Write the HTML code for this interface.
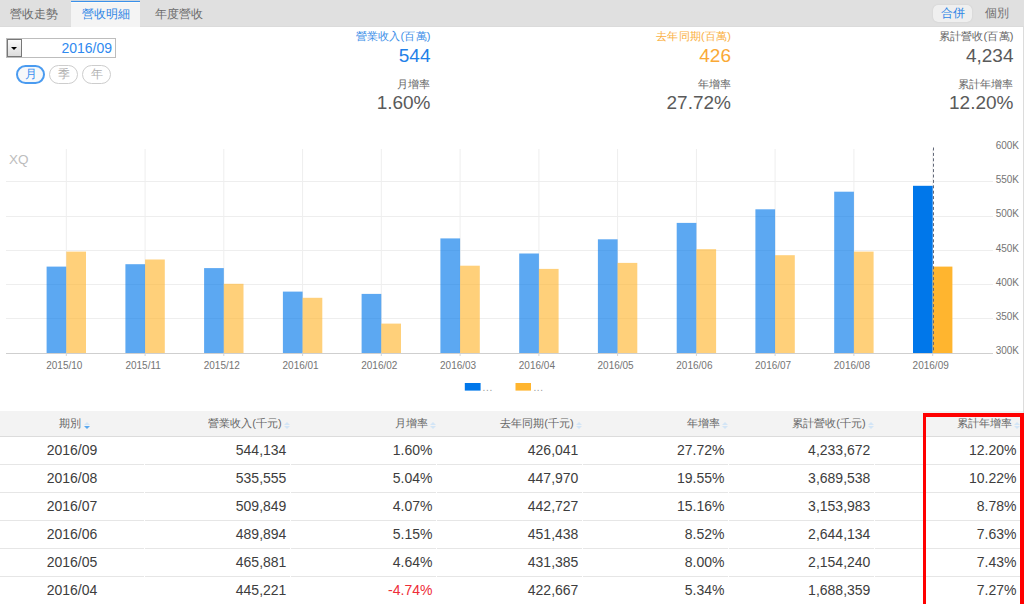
<!DOCTYPE html>
<html><head><meta charset="utf-8">
<style>
html,body{margin:0;padding:0;}
body{width:1024px;height:604px;overflow:hidden;position:relative;background:#fff;font-family:"Liberation Sans",sans-serif;color:#555;}
.abs{position:absolute;white-space:nowrap;}
.tabbar{position:absolute;left:0;top:0;width:1024px;height:26px;background:#e0e0e0;border-bottom:1px solid #dbdbdb;}
.tab{position:absolute;top:0;height:27px;line-height:28px;font-size:12px;color:#6a6a6a;}
.tab.act{background:#f4f4f4;color:#2f86e6;border-top:1px solid #c8d4e0;box-shadow:inset 0 1px 0 #3a90ea, inset 0 2px 0 #fdfbf7;height:26px;line-height:27px;text-align:center;}
.rborder{position:absolute;left:1023px;top:27px;width:1px;height:578px;background:#dcdcdc;}
.btn{position:absolute;left:933px;top:5px;width:39px;height:17px;border-radius:5px;background:#efefef;box-shadow:0 0 1.5px #c4c4c4;color:#2f86e6;font-size:12px;line-height:17px;text-align:center;}
.dd{position:absolute;left:6px;top:38px;width:108px;height:18px;border:1px solid #bdbdbd;background:#fff;}
.ddb{position:absolute;left:0;top:0;width:13px;height:16px;border:1px solid #777;background:linear-gradient(#fafafa,#dcdcdc);}
.ddb:after{content:"";position:absolute;left:3.2px;top:6.8px;border-left:3.8px solid transparent;border-right:3.8px solid transparent;border-top:3.6px solid #000;}
.ddt{position:absolute;right:3px;top:-0.5px;line-height:19px;font-size:14px;color:#2f8af0;}
.pill{position:absolute;top:65px;box-sizing:border-box;width:29px;height:19px;border:1px solid #cdcdcd;border-radius:9.5px;font-size:12px;line-height:17px;text-align:center;color:#b0b0b0;text-indent:1px;}
.pill.act{border:2px solid #4a9bf0;color:#3a8ff0;line-height:15px;background:#f6f8fa;}
.lbl{position:absolute;font-size:11px;text-align:right;white-space:nowrap;letter-spacing:0.2px;margin-right:-0.2px;}
.val{position:absolute;font-size:19px;text-align:right;white-space:nowrap;}
svg text{font-family:"Liberation Sans",sans-serif;font-size:10px;fill:#747474;}
.thbg{position:absolute;left:0;top:411px;width:1023px;height:25px;background:#f3f3f3;border-bottom:1px solid #dcdcdc;}
.th{position:absolute;top:411px;height:25px;line-height:25px;font-size:11px;color:#666;white-space:nowrap;}
.srt{position:absolute;top:422px;width:6px;height:8px;}
.srt:before{content:"";position:absolute;left:0;top:0;border-left:3px solid transparent;border-right:3px solid transparent;border-bottom:3.3px solid #d3e5f6;}
.srt:after{content:"";position:absolute;left:0;top:4.2px;border-left:3px solid transparent;border-right:3px solid transparent;border-top:3.3px solid #d3e5f6;}
.srt.act:after{border-top-color:#5aa8ef;}
.td{position:absolute;height:28px;line-height:27px;border-bottom:1px solid #e6e6e6;font-size:14px;color:#3d3d3d;text-align:right;box-sizing:border-box;padding-right:3.6px;white-space:nowrap;}
.td{text-indent:0}
.td.c{text-align:center;padding-right:0;}
.neg{color:#ee2d38;}
.red{position:absolute;left:923px;top:413px;width:94px;height:200px;border:3px solid #ff0000;border-top-width:4px;border-right-width:6px;}
</style></head><body>
<div class="tabbar"></div>
<div class="tab" style="left:10px;">營收走勢</div>
<div class="tab act" style="left:71px;width:69px;">營收明細</div>
<div class="tab" style="left:155px;">年度營收</div>
<div class="btn">合併</div>
<div class="tab" style="left:984.5px;top:-1px;color:#707070">個別</div>
<div class="rborder"></div>

<div class="dd"><div class="ddb"></div><div class="ddt">2016/09</div></div>
<div class="pill act" style="left:16px;">月</div>
<div class="pill" style="left:49px;">季</div>
<div class="pill" style="left:81.5px;width:29.5px">年</div>

<div class="lbl" style="right:593.5px;top:29px;color:#3b8ee8;">營業收入(百萬)</div>
<div class="val" style="right:593.5px;top:45px;color:#1f80e8;">544</div>
<div class="lbl" style="right:593.5px;top:76.5px;color:#666;">月增率</div>
<div class="val" style="right:593.5px;top:91.7px;color:#5a5a5a;">1.60%</div>

<div class="lbl" style="right:293px;top:29px;color:#fab042;">去年同期(百萬)</div>
<div class="val" style="right:293px;top:45px;color:#faa936;">426</div>
<div class="lbl" style="right:293px;top:76.5px;color:#666;">年增率</div>
<div class="val" style="right:293px;top:91.7px;color:#5a5a5a;">27.72%</div>

<div class="lbl" style="right:10.5px;top:29px;color:#666;">累計營收(百萬)</div>
<div class="val" style="right:10.5px;top:45px;color:#5a5a5a;">4,234</div>
<div class="lbl" style="right:10.5px;top:76.5px;color:#666;">累計年增率</div>
<div class="val" style="right:10.5px;top:91.7px;color:#5a5a5a;">12.20%</div>

<svg class="abs" style="left:0;top:0" width="1024" height="410" viewBox="0 0 1024 410">
<rect x="6" y="318" width="987" height="1" fill="#eeeeee"/>
<rect x="6" y="284" width="987" height="1" fill="#eeeeee"/>
<rect x="6" y="250" width="987" height="1" fill="#eeeeee"/>
<rect x="6" y="216" width="987" height="1" fill="#eeeeee"/>
<rect x="6" y="181" width="987" height="1" fill="#eeeeee"/>
<rect x="65.8" y="149" width="1" height="203" fill="#eeeeee"/>
<rect x="144.6" y="149" width="1" height="203" fill="#eeeeee"/>
<rect x="223.3" y="149" width="1" height="203" fill="#eeeeee"/>
<rect x="302.1" y="149" width="1" height="203" fill="#eeeeee"/>
<rect x="380.8" y="149" width="1" height="203" fill="#eeeeee"/>
<rect x="459.6" y="149" width="1" height="203" fill="#eeeeee"/>
<rect x="538.4" y="149" width="1" height="203" fill="#eeeeee"/>
<rect x="617.1" y="149" width="1" height="203" fill="#eeeeee"/>
<rect x="695.9" y="149" width="1" height="203" fill="#eeeeee"/>
<rect x="774.6" y="149" width="1" height="203" fill="#eeeeee"/>
<rect x="853.4" y="149" width="1" height="203" fill="#eeeeee"/>
<rect x="932.2" y="149" width="1" height="203" fill="#eeeeee"/>
<rect x="46.6" y="266.6" width="19.7" height="86.4" fill="rgba(0,119,234,0.64)"/>
<rect x="66.3" y="251.6" width="19.7" height="101.4" fill="rgba(255,181,47,0.64)"/>
<rect x="125.4" y="264.2" width="19.7" height="88.8" fill="rgba(0,119,234,0.64)"/>
<rect x="145.1" y="259.5" width="19.7" height="93.5" fill="rgba(255,181,47,0.64)"/>
<rect x="204.1" y="268.1" width="19.7" height="84.9" fill="rgba(0,119,234,0.64)"/>
<rect x="223.8" y="283.8" width="19.7" height="69.2" fill="rgba(255,181,47,0.64)"/>
<rect x="282.9" y="291.6" width="19.7" height="61.4" fill="rgba(0,119,234,0.64)"/>
<rect x="302.6" y="297.8" width="19.7" height="55.2" fill="rgba(255,181,47,0.64)"/>
<rect x="361.6" y="293.9" width="19.7" height="59.1" fill="rgba(0,119,234,0.64)"/>
<rect x="381.3" y="323.6" width="19.7" height="29.4" fill="rgba(255,181,47,0.64)"/>
<rect x="440.4" y="238.4" width="19.7" height="114.6" fill="rgba(0,119,234,0.64)"/>
<rect x="460.1" y="265.7" width="19.7" height="87.3" fill="rgba(255,181,47,0.64)"/>
<rect x="519.2" y="253.5" width="19.7" height="99.5" fill="rgba(0,119,234,0.64)"/>
<rect x="538.9" y="268.9" width="19.7" height="84.1" fill="rgba(255,181,47,0.64)"/>
<rect x="597.9" y="239.3" width="19.7" height="113.7" fill="rgba(0,119,234,0.64)"/>
<rect x="617.6" y="262.9" width="19.7" height="90.1" fill="rgba(255,181,47,0.64)"/>
<rect x="676.7" y="222.9" width="19.7" height="130.1" fill="rgba(0,119,234,0.64)"/>
<rect x="696.4" y="249.2" width="19.7" height="103.8" fill="rgba(255,181,47,0.64)"/>
<rect x="755.4" y="209.3" width="19.7" height="143.7" fill="rgba(0,119,234,0.64)"/>
<rect x="775.1" y="255.2" width="19.7" height="97.8" fill="rgba(255,181,47,0.64)"/>
<rect x="834.2" y="191.7" width="19.7" height="161.3" fill="rgba(0,119,234,0.64)"/>
<rect x="853.9" y="251.6" width="19.7" height="101.4" fill="rgba(255,181,47,0.64)"/>
<rect x="913.0" y="185.8" width="19.7" height="167.2" fill="#0077ea"/>
<rect x="932.7" y="266.6" width="19.7" height="86.4" fill="#ffb52f"/>
<rect x="6" y="353" width="987" height="1" fill="#cfcfcf"/>
<rect x="65.8" y="354" width="1" height="2" fill="#d4d4d4"/>
<text x="64.3" y="369" text-anchor="middle">2015/10</text>
<rect x="144.6" y="354" width="1" height="2" fill="#d4d4d4"/>
<text x="143.1" y="369" text-anchor="middle">2015/11</text>
<rect x="223.3" y="354" width="1" height="2" fill="#d4d4d4"/>
<text x="221.8" y="369" text-anchor="middle">2015/12</text>
<rect x="302.1" y="354" width="1" height="2" fill="#d4d4d4"/>
<text x="300.6" y="369" text-anchor="middle">2016/01</text>
<rect x="380.8" y="354" width="1" height="2" fill="#d4d4d4"/>
<text x="379.3" y="369" text-anchor="middle">2016/02</text>
<rect x="459.6" y="354" width="1" height="2" fill="#d4d4d4"/>
<text x="458.1" y="369" text-anchor="middle">2016/03</text>
<rect x="538.4" y="354" width="1" height="2" fill="#d4d4d4"/>
<text x="536.9" y="369" text-anchor="middle">2016/04</text>
<rect x="617.1" y="354" width="1" height="2" fill="#d4d4d4"/>
<text x="615.6" y="369" text-anchor="middle">2016/05</text>
<rect x="695.9" y="354" width="1" height="2" fill="#d4d4d4"/>
<text x="694.4" y="369" text-anchor="middle">2016/06</text>
<rect x="774.6" y="354" width="1" height="2" fill="#d4d4d4"/>
<text x="773.1" y="369" text-anchor="middle">2016/07</text>
<rect x="853.4" y="354" width="1" height="2" fill="#d4d4d4"/>
<text x="851.9" y="369" text-anchor="middle">2016/08</text>
<rect x="932.2" y="354" width="1" height="2" fill="#d4d4d4"/>
<text x="930.7" y="369" text-anchor="middle">2016/09</text>
<line x1="933.5" y1="147.5" x2="933.5" y2="352" stroke="#646a7a" stroke-width="1" stroke-dasharray="3,2.4"/>
<text x="1019" y="354.2" text-anchor="end">300K</text>
<text x="1019" y="320.0" text-anchor="end">350K</text>
<text x="1019" y="285.8" text-anchor="end">400K</text>
<text x="1019" y="251.6" text-anchor="end">450K</text>
<text x="1019" y="217.4" text-anchor="end">500K</text>
<text x="1019" y="183.2" text-anchor="end">550K</text>
<text x="1019" y="149.0" text-anchor="end">600K</text>
<text x="9" y="164" style="fill:#bdbdbd;font-size:13.5px">XQ</text>
<rect x="464.8" y="383" width="15.8" height="7.6" fill="#0077ea"/>
<text x="482.6" y="391" style="fill:#999;letter-spacing:0.65px">...</text>
<rect x="515.5" y="383" width="15.5" height="7.6" fill="#ffb52f"/>
<text x="533.4" y="391" style="fill:#999;letter-spacing:0.65px">...</text>
</svg>

<div class="thbg"></div>
<div class="th" style="right:943.5px">期別</div><i class="srt act" style="left:84.4px"></i>
<div class="th" style="right:742.4px">營業收入(千元)</div><i class="srt" style="left:284px"></i>
<div class="th" style="right:596.4px">月增率</div><i class="srt" style="left:430px"></i>
<div class="th" style="right:450.4px">去年同期(千元)</div><i class="srt" style="left:576px"></i>
<div class="th" style="right:304.4px">年增率</div><i class="srt" style="left:722px"></i>
<div class="th" style="right:158.39999999999998px">累計營收(千元)</div><i class="srt" style="left:868px"></i>
<div class="th" style="right:12.399999999999977px">累計年增率</div><i class="srt" style="left:1014px"></i>
<div class="td c" style="left:0px;width:144px;top:437px">2016/09</div>
<div class="td" style="left:145px;width:145px;top:437px">544,134</div>
<div class="td" style="left:291px;width:145px;top:437px">1.60%</div>
<div class="td" style="left:437px;width:145px;top:437px">426,041</div>
<div class="td" style="left:583px;width:145px;top:437px">27.72%</div>
<div class="td" style="left:729px;width:145px;top:437px">4,233,672</div>
<div class="td" style="left:875px;width:145px;top:437px">12.20%</div>
<div class="td c" style="left:0px;width:144px;top:465px">2016/08</div>
<div class="td" style="left:145px;width:145px;top:465px">535,555</div>
<div class="td" style="left:291px;width:145px;top:465px">5.04%</div>
<div class="td" style="left:437px;width:145px;top:465px">447,970</div>
<div class="td" style="left:583px;width:145px;top:465px">19.55%</div>
<div class="td" style="left:729px;width:145px;top:465px">3,689,538</div>
<div class="td" style="left:875px;width:145px;top:465px">10.22%</div>
<div class="td c" style="left:0px;width:144px;top:493px">2016/07</div>
<div class="td" style="left:145px;width:145px;top:493px">509,849</div>
<div class="td" style="left:291px;width:145px;top:493px">4.07%</div>
<div class="td" style="left:437px;width:145px;top:493px">442,727</div>
<div class="td" style="left:583px;width:145px;top:493px">15.16%</div>
<div class="td" style="left:729px;width:145px;top:493px">3,153,983</div>
<div class="td" style="left:875px;width:145px;top:493px">8.78%</div>
<div class="td c" style="left:0px;width:144px;top:521px">2016/06</div>
<div class="td" style="left:145px;width:145px;top:521px">489,894</div>
<div class="td" style="left:291px;width:145px;top:521px">5.15%</div>
<div class="td" style="left:437px;width:145px;top:521px">451,438</div>
<div class="td" style="left:583px;width:145px;top:521px">8.52%</div>
<div class="td" style="left:729px;width:145px;top:521px">2,644,134</div>
<div class="td" style="left:875px;width:145px;top:521px">7.63%</div>
<div class="td c" style="left:0px;width:144px;top:549px">2016/05</div>
<div class="td" style="left:145px;width:145px;top:549px">465,881</div>
<div class="td" style="left:291px;width:145px;top:549px">4.64%</div>
<div class="td" style="left:437px;width:145px;top:549px">431,385</div>
<div class="td" style="left:583px;width:145px;top:549px">8.00%</div>
<div class="td" style="left:729px;width:145px;top:549px">2,154,240</div>
<div class="td" style="left:875px;width:145px;top:549px">7.43%</div>
<div class="td c" style="left:0px;width:144px;top:577px">2016/04</div>
<div class="td" style="left:145px;width:145px;top:577px">445,221</div>
<div class="td neg" style="left:291px;width:145px;top:577px">-4.74%</div>
<div class="td" style="left:437px;width:145px;top:577px">422,667</div>
<div class="td" style="left:583px;width:145px;top:577px">5.34%</div>
<div class="td" style="left:729px;width:145px;top:577px">1,688,359</div>
<div class="td" style="left:875px;width:145px;top:577px">7.27%</div>
<div class="red"></div>
</body></html>
